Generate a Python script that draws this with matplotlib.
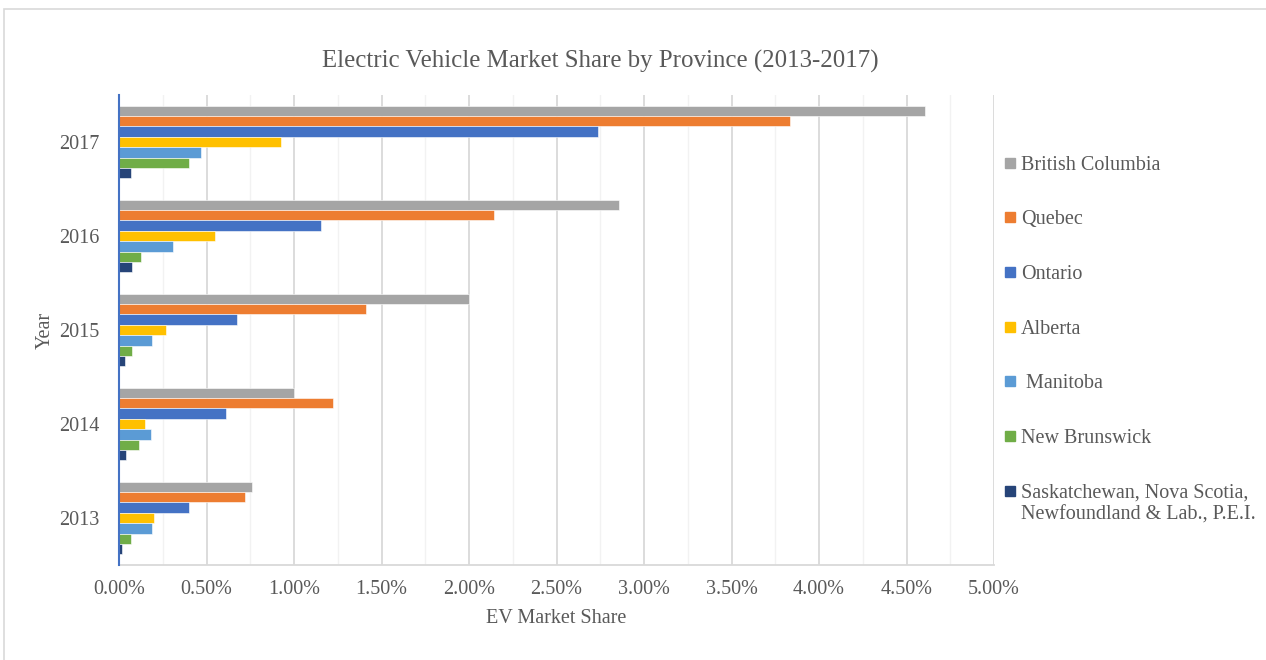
import matplotlib
matplotlib.use("Agg")
import matplotlib.pyplot as plt
import numpy as np
from matplotlib.patches import Rectangle
from matplotlib.ticker import MultipleLocator, FuncFormatter

years = ["2013", "2014", "2015", "2016", "2017"]
series_names = ["British Columbia", "Quebec", "Ontario", "Alberta", " Manitoba",
                "New Brunswick", "Saskatchewan, Nova Scotia,\nNewfoundland & Lab., P.E.I."]
colors = ["#A5A5A5", "#ED7D31", "#4472C4", "#FFC000", "#5B9BD5", "#70AD47", "#264478"]

# values in % for years 2013..2017
british_columbia = [0.76, 1.00, 2.00, 2.855, 4.605]
quebec = [0.72, 1.225, 1.41, 2.145, 3.835]
ontario = [0.40, 0.61, 0.675, 1.155, 2.735]
alberta = [0.20, 0.15, 0.27, 0.548, 0.923]
manitoba = [0.19, 0.183, 0.19, 0.307, 0.47]
new_brunswick = [0.07, 0.113, 0.074, 0.126, 0.40]
sask_ns_nl_pei = [0.019, 0.04, 0.034, 0.077, 0.07]
values = [british_columbia, quebec, ontario, alberta, manitoba, new_brunswick, sask_ns_nl_pei]

plt.rcParams['font.family'] = ['Liberation Serif', 'DejaVu Serif']
txt = "#595959"

fig = plt.figure(figsize=(12.66, 6.6), dpi=100)
ax = fig.add_axes([119/1266, 1-565/660, (994-119)/1266, 470/660])

n = len(series_names)
h = 0.11
y = np.arange(len(years))
for i, (name, vals, c) in enumerate(zip(series_names, values, colors)):
    off = (n - 1) / 2 * h - i * h
    ax.barh(y + off, vals, height=h, color=c, edgecolor="white", linewidth=0.4, zorder=3)

ax.set_xlim(0, 5.0)
ax.set_ylim(-0.5, len(years) - 0.5)
ax.set_yticks(y)
ax.set_yticklabels(years)
ax.xaxis.set_major_locator(MultipleLocator(0.5))
ax.xaxis.set_minor_locator(MultipleLocator(0.25))
ax.xaxis.set_major_formatter(FuncFormatter(lambda v, p: f"{v:.2f}%"))
ax.grid(axis="x", which="major", color="#D9D9D9", linewidth=1.3, zorder=0)
ax.grid(axis="x", which="minor", color="#F2F2F2", linewidth=1.0, zorder=0)
ax.tick_params(axis="both", which="both", length=0, labelsize=14.5, labelcolor=txt)
ax.tick_params(axis="x", pad=11)
ax.tick_params(axis="y", pad=14)
for s in ["top", "right"]:
    ax.spines[s].set_visible(False)
ax.spines["bottom"].set_color("#D9D9D9")
ax.spines["bottom"].set_linewidth(1.3)
ax.spines["left"].set_color("#4472C4")
ax.spines["left"].set_linewidth(1.5)
ax.spines["left"].set_zorder(4)

ax.set_xlabel("EV Market Share", fontsize=14.5, color=txt, labelpad=7)
ax.set_ylabel("Year", fontsize=14.5, color=txt, labelpad=3)
fig.text(600/1266, 1-61/660, "Electric Vehicle Market Share by Province (2013-2017)",
         ha="center", va="center", fontsize=17.9, color=txt)

# legend drawn manually
leg_y = [163, 217, 272, 327, 381, 436, 491]
for name, c, ly in zip(series_names, colors, leg_y):
    fig.add_artist(Rectangle((1005/1266, 1-(ly+5)/660), 10/1266, 10/660,
                             transform=fig.transFigure, color=c))
    fig.text(1021/1266, 1-(ly-7)/660, name, ha="left", va="top",
             fontsize=14.5, color=txt, linespacing=1.2)

# outer frame
fig.add_artist(Rectangle((4/1266, -0.1), 1.2, 1-9/660+0.1, transform=fig.transFigure,
                         fill=False, edgecolor="#D9D9D9", linewidth=1.2))

fig.savefig("out.png", dpi=100)
